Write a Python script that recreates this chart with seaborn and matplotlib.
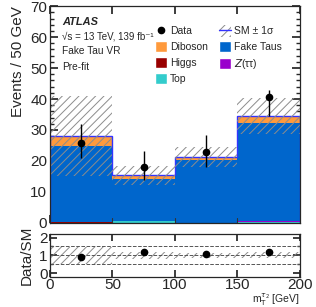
import numpy as np
import pandas as pd
import matplotlib
matplotlib.use("Agg")
import matplotlib.pyplot as plt
import seaborn as sns
from matplotlib.patches import Patch
from matplotlib.lines import Line2D

# binning in mT(tau2) [GeV]
edges = [0, 50, 100, 150, 200]

# stacked backgrounds (events per bin)
fake_taus = [24.5, 13.8, 20.4, 31.4]
diboson = [3.3, 1.1, 1.0, 2.3]
higgs = [0.25, 0.0, 0.0, 0.0]
top = [0.0, 0.45, 0.0, 0.3]
ztautau = [0.0, 0.0, 0.0, 0.45]

# SM uncertainty (+-1 sigma)
sm_err = [13.0, 3.0, 3.2, 5.8]

# data with error bars
data = [25.8, 17.9, 23.0, 40.6]
data_up = [6.0, 5.4, 5.5, 2.3]
data_dn = [5.0, 4.2, 5.0, 6.0]

# ratio panel
ratio = [0.93, 1.19, 1.07, 1.20]
ratio_err = [0.08, 0.17, 0.1, 0.1]

colors = {"Diboson": "#ff9a3c", "Fake Taus": "#0066cc", "Higgs": "#990000",
          "Top": "#33cccc", "Z(ττ)": "#9900cc"}

sns.set_theme(style="ticks")
plt.rcParams["font.family"] = ["Liberation Sans", "DejaVu Sans"]
plt.rcParams["hatch.linewidth"] = 0.7
plt.rcParams["axes.linewidth"] = 0.9

centers = [(a + b) / 2 for a, b in zip(edges[:-1], edges[1:])]
rows = []
for name, vals in [("Top", top), ("Z(ττ)", ztautau), ("Higgs", higgs),
                   ("Fake Taus", fake_taus), ("Diboson", diboson)]:
    for c, v in zip(centers, vals):
        rows.append({"x": c, "w": v, "process": name})
df = pd.DataFrame(rows)
total = np.array(fake_taus) + np.array(diboson) + np.array(higgs) + np.array(top) + np.array(ztautau)

fig = plt.figure(figsize=(3.16, 3.07), dpi=100)
ax = fig.add_axes([0.158, 0.274, 0.791, 0.706])
rax = fig.add_axes([0.158, 0.098, 0.791, 0.140])

order = ["Diboson", "Fake Taus", "Higgs", "Z(ττ)", "Top"]
sns.histplot(data=df, x="x", weights="w", hue="process", hue_order=order,
             multiple="stack", bins=edges, palette=colors, linewidth=0,
             alpha=1, ax=ax, legend=False)

hatch_col = "#8c8c8c"
ax.stairs(total, edges, color="#3333ff", lw=1.0)
ax.bar(centers, 2 * np.array(sm_err), width=50, bottom=total - np.array(sm_err),
       fill=False, hatch="////", edgecolor=hatch_col, lw=0)
for e in edges[1:-1]:
    ax.plot([e, e], [0, 1.5], color="#333333", lw=0.8)
ax.errorbar(centers, data, yerr=[data_dn, data_up], fmt="o", color="black",
            ms=4.5, elinewidth=1, capsize=0)

ax.set_xlim(0, 200)
ax.set_ylim(0, 70)
ax.set_yticks(range(0, 71, 10))
ax.set_xticks([0, 50, 100, 150, 200])
ax.set_xticklabels([])
ax.set_xlabel("")
ax.set_ylabel("Events / 50 GeV", fontsize=11, loc="top")
ax.yaxis.set_minor_locator(plt.MultipleLocator(2))
ax.tick_params(which="both", direction="in", top=True, right=True, labelsize=11, pad=2)
ax.tick_params(which="major", length=6)
ax.tick_params(which="minor", length=3)

ax.text(0.05, 0.926, "ATLAS", transform=ax.transAxes, fontsize=7.9,
        fontweight="bold", fontstyle="italic", va="center")
ax.text(0.05, 0.862, "√s = 13 TeV, 139 fb⁻¹", transform=ax.transAxes,
        fontsize=7.0, va="center")
ax.text(0.05, 0.793, "Fake Tau VR", transform=ax.transAxes, fontsize=7.3, va="center")
ax.text(0.05, 0.719, "Pre-fit", transform=ax.transAxes, fontsize=7.3, va="center")

sm_handle = (Patch(facecolor="white", hatch="////", edgecolor=hatch_col, lw=0),
             Line2D([], [], color="#3333ff", lw=1))
handles = [
    Line2D([], [], color="black", marker="o", ms=4.5, ls="", label="Data"),
    Patch(facecolor=colors["Diboson"]),
    Patch(facecolor=colors["Higgs"]),
    Patch(facecolor=colors["Top"]),
    sm_handle,
    Patch(facecolor=colors["Fake Taus"]),
    Patch(facecolor=colors["Z(ττ)"]),
]
labels = ["Data", "Diboson", "Higgs", "Top", "SM ± 1σ", "Fake Taus", r"$Z$(ττ)"]
ax.legend(handles, labels, ncol=2, loc="upper right", bbox_to_anchor=(0.964, 0.955),
          frameon=False, fontsize=7.5, handlelength=1.15, handleheight=1.3,
          columnspacing=1.0, handletextpad=0.3, labelspacing=0.43)

# ratio panel
r_lo = [1 - e / t for e, t in zip(sm_err, total)]
r_hi = [1 + e / t for e, t in zip(sm_err, total)]
rax.bar(centers, np.array(r_hi) - np.array(r_lo), width=50, bottom=r_lo,
        fill=False, hatch="////", edgecolor=hatch_col, lw=0)
for yv in [0.5, 1.0, 1.5]:
    rax.axhline(yv, color="#555555", ls="--", lw=0.7)
rax.errorbar(centers, ratio, yerr=ratio_err, fmt="o", color="black", ms=4.5,
             elinewidth=1, capsize=0)
rax.set_xlim(0, 200)
rax.set_ylim(-0.2, 2.2)
rax.set_yticks([0, 1, 2])
rax.set_xticks([0, 50, 100, 150, 200])
rax.yaxis.set_minor_locator(plt.MultipleLocator(0.5))
rax.tick_params(which="both", direction="in", top=True, right=True, labelsize=11, pad=1.5)
rax.tick_params(axis="x", pad=0.5)
rax.tick_params(which="major", length=5)
rax.tick_params(which="minor", length=2.5)
rax.set_ylabel("Data/SM", fontsize=11)
rax.set_xlabel(r"m$_\mathrm{T}^{\tau_2}$ [GeV]", fontsize=7.5, ha="right")
rax.xaxis.set_label_coords(1.0, -0.35)
fig.align_ylabels([ax, rax])

fig.savefig("out.png", dpi=100)
